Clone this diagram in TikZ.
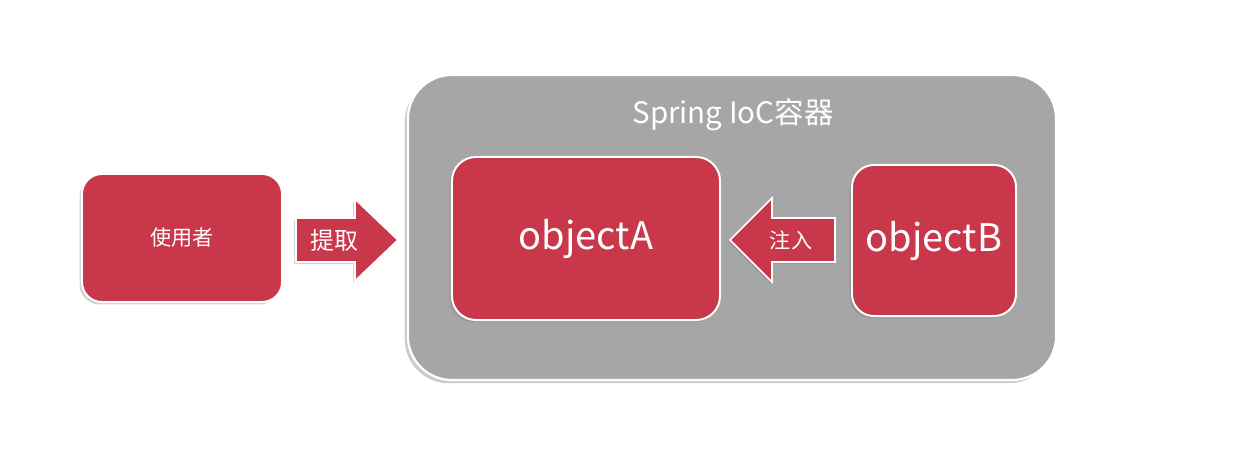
\documentclass[tikz,border=0pt]{standalone}
\usepackage{fontspec}
\setmainfont{Noto Sans CJK SC}
\usetikzlibrary{shadows}
\definecolor{boxred}{HTML}{C8374A}
\definecolor{iocgray}{HTML}{A6A6A6}
\tikzset{
  redbox/.style={draw=white, line width=1.4pt, fill=boxred, text=white,
    drop shadow={shadow xshift=-0.06cm, shadow yshift=-0.06cm, opacity=0.35}},
  blockarrow/.style={draw=white, line width=1.2pt, fill=boxred,
    drop shadow={shadow xshift=-0.05cm, shadow yshift=-0.05cm, opacity=0.35}}
}
\begin{document}
\begin{tikzpicture}[x=0.025cm,y=-0.025cm]
\useasboundingbox[fill=white] (0,0) rectangle (1240,460);

% container
\node[draw=white, line width=1.6pt, fill=iocgray, rounded corners=1.1cm,
  minimum width=16.2cm, minimum height=7.625cm,
  drop shadow={shadow xshift=-0.08cm, shadow yshift=-0.08cm, opacity=0.4}] (ioc) at (732,227.5) {};
\node[text=white, font=\fontsize{21}{24}\selectfont] (ioctitle) at (733,115) {Spring IoC容器};

% boxes
\node[redbox, rounded corners=0.5cm, minimum width=5cm, minimum height=3.2cm,
  font=\fontsize{15}{18}\selectfont] (user) at (182,238) {使用者};
\node[redbox, rounded corners=0.6cm, minimum width=6.7cm, minimum height=4.075cm,
  font=\fontsize{27}{30}\selectfont] (objA) at (586,238.5) {objectA};
\node[redbox, rounded corners=0.55cm, minimum width=4.1cm, minimum height=3.775cm,
  font=\fontsize{27}{30}\selectfont] (objB) at (934,240.5) {objectB};

% block arrows
\draw[blockarrow] (296,218) -- (355,218) -- (355,199) -- (398,240) -- (355,281) -- (355,262) -- (296,262) -- cycle;
\node[text=white, font=\fontsize{17}{20}\selectfont] (fetch) at (334,240) {提取};

\draw[blockarrow] (835,218) -- (772,218) -- (772,198) -- (730,240) -- (772,282) -- (772,262) -- (835,262) -- cycle;
\node[text=white, font=\fontsize{15}{18}\selectfont] (inject) at (791,240) {注入};
\end{tikzpicture}
\end{document}
